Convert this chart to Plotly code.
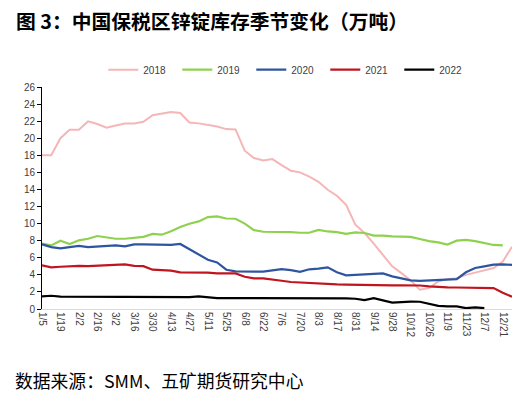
import plotly.graph_objects as go

dates = ["1/5","1/12","1/19","1/26","2/2","2/9","2/16","2/23","3/2","3/9","3/16","3/23","3/30",
         "4/6","4/13","4/20","4/27","5/4","5/11","5/18","5/25","6/1","6/8","6/15","6/22","6/29",
         "7/6","7/13","7/20","7/27","8/3","8/10","8/17","8/24","8/31","9/7","9/14","9/21","9/28",
         "10/5","10/12","10/19","10/26","11/2","11/9","11/16","11/23","11/30","12/7","12/14","12/21","12/28"]

s2018 = [18.0,18.0,20.0,21.0,21.0,21.97,21.66,21.23,21.5,21.73,21.73,21.93,22.7,22.9,23.07,22.95,
         21.85,21.74,21.58,21.38,21.07,21.03,18.54,17.68,17.4,17.56,16.85,16.2,16.0,15.5,14.9,13.97,
         13.26,12.2,9.87,8.9,7.65,6.36,5.0,4.2,3.35,2.26,2.46,3.23,3.5,3.6,4.0,4.26,4.5,4.8,5.55,7.3]
s2019 = [7.65,7.45,8.0,7.6,8.04,8.23,8.55,8.35,8.23,8.23,8.35,8.45,8.8,8.7,9.1,9.6,
         9.99,10.26,10.77,10.85,10.6,10.57,10.0,9.24,9.05,9.05,8.97,9.0,8.93,8.93,9.27,9.08,
         9.0,8.8,8.97,8.9,8.6,8.6,8.5,8.5,8.45,8.2,7.95,7.8,7.55,8.0,8.1,7.95,7.75,7.5,7.45]
s2020 = [7.57,7.25,7.1,7.25,7.4,7.25,7.33,7.4,7.45,7.33,7.57,7.57,7.53,7.53,7.5,7.62,
         7.0,6.44,5.77,5.46,4.6,4.4,4.37,4.33,4.37,4.52,4.68,4.55,4.35,4.65,4.72,4.88,
         4.3,3.95,4.0,4.13,4.17,4.17,3.82,3.6,3.35,3.3,3.35,3.4,3.4,3.5,4.3,4.8,5.0,5.2,5.22,5.17]
s2021 = [5.1,4.87,4.95,5.02,5.06,5.02,5.06,5.14,5.22,5.22,5.06,5.02,4.6,4.55,4.5,4.3,
         4.3,4.3,4.25,4.17,4.13,4.17,3.78,3.58,3.58,3.47,3.31,3.16,3.1,2.98,2.97,2.93,
         2.88,2.85,2.82,2.8,2.78,2.77,2.77,2.77,2.77,2.75,2.65,2.56,2.53,2.52,2.5,2.5,2.5,2.45,1.9,1.43]
s2022 = [1.48,1.55,1.44,1.44,1.44,1.44,1.44,1.44,1.44,1.44,1.38,1.36,1.36,1.36,1.36,1.36,
         1.4,1.48,1.38,1.28,1.28,1.28,1.28,1.28,1.28,1.28,1.29,1.29,1.29,1.29,1.29,1.29,
         1.29,1.25,1.2,1.05,1.28,1.05,0.74,0.8,0.87,0.85,0.6,0.37,0.3,0.3,0.1,0.18,0.1]

tick_labels = dates[::2]
y_ticks = list(range(0, 27, 2))

series = [("2018", s2018, "#F4B6B6", 2.0),
          ("2019", s2019, "#8FD14F", 2.2),
          ("2020", s2020, "#2E55A0", 2.2),
          ("2021", s2021, "#C0151F", 2.2),
          ("2022", s2022, "#000000", 2.2)]

fig = go.Figure()
for name, vals, color, w in series:
    fig.add_trace(go.Scatter(x=list(range(len(vals))), y=vals, mode="lines", name=name,
                             line=dict(color=color, width=w)))

fig.update_layout(
    width=520, height=398,
    margin=dict(l=42, r=8, t=87, b=89, autoexpand=False),
    paper_bgcolor="white", plot_bgcolor="white",
    font=dict(family="Liberation Sans, Noto Sans CJK SC", color="#404040", size=10),
    showlegend=True,
    legend=dict(orientation="h", x=0.524, xanchor="center", y=0.825, yanchor="middle",
                yref="container", font=dict(size=10, color="#404040"),
                entrywidth=29, entrywidthmode="pixels", itemwidth=30),
    annotations=[
        dict(text="<b>图 3：中国保税区锌锭库存季节变化（万吨）</b>", xref="paper", yref="paper",
             x=-0.059, y=1.30, xanchor="left", yanchor="middle", showarrow=False,
             font=dict(family="Noto Sans CJK SC", size=19.8, color="#000000")),
        dict(text="数据来源：SMM、五矿期货研究中心", xref="paper", yref="paper",
             x=-0.062, y=-0.32, xanchor="left", yanchor="middle", showarrow=False,
             font=dict(family="Noto Sans CJK SC", size=17.8, color="#000000")),
    ],
)

fig.update_xaxes(range=[0, 51], tickmode="array", tickvals=list(range(0, 52, 2)),
                 ticktext=tick_labels, tickangle=90, showgrid=False, zeroline=False,
                 showline=True, linecolor="#D9D9D9", linewidth=1, ticks="", automargin=False,
                 tickfont=dict(size=10, color="#404040"))
fig.update_yaxes(range=[0, 26], tickmode="array", tickvals=y_ticks, showgrid=False,
                 zeroline=False, showline=True, linecolor="#000000", linewidth=1,
                 ticks="outside", ticklen=4, tickcolor="#000000", automargin=False,
                 tickfont=dict(size=10, color="#404040"))

fig.write_html("out.html", config={"displayModeBar": False},
               post_script="document.body.style.margin='0';document.body.style.overflow='hidden';")
